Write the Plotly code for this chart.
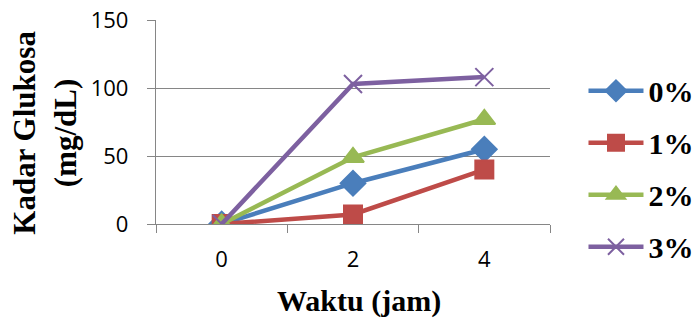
import plotly.graph_objects as go

# Glucose level over time for each concentration
waktu = ["0", "2", "4"]
kadar_0 = [0, 30, 55]
kadar_1 = [0, 7, 40]
kadar_2 = [0, 49, 77]
kadar_3 = [0, 103, 108]

series = [
    ("0%", kadar_0, "#4A7EBB", "diamond", 19),
    ("1%", kadar_1, "#BE4B48", "square", 18),
    ("2%", kadar_2, "#98B954", "triangle-up", 19),
    ("3%", kadar_3, "#7D60A0", "x-thin", 18),
]

fig = go.Figure()
for i, (name, vals, color, symbol, size) in enumerate(series):
    fig.add_trace(go.Scatter(
        x=waktu, y=vals, name=f"<b>{name}</b>", mode="lines+markers",
        line=dict(color=color, width=4.5),
        marker=dict(symbol=symbol, size=size, color=color,
                    line=dict(color=color, width=2)),
        legendgroup=f"g{i}",
    ))

grid_color = "#868686"
fig.update_layout(
    width=698, height=320,
    margin=dict(l=156, r=148, t=20, b=96, autoexpand=False),
    paper_bgcolor="white", plot_bgcolor="white",
    showlegend=True,
    legend=dict(
        x=1.085, y=0.271, xanchor="left", yanchor="middle",
        font=dict(family="Liberation Serif", size=30, color="black"),
        itemwidth=55, tracegroupgap=10, traceorder="grouped",
        bgcolor="rgba(0,0,0,0)", maxheight=400,
    ),
    annotations=[
        dict(text="<b>Kadar Glukosa<br>(mg/dL)</b>", textangle=-90,
             xref="paper", yref="paper", x=-0.283, y=0.45,
             xanchor="center", yanchor="middle", showarrow=False,
             font=dict(family="Liberation Serif", size=31, color="black")),
        dict(text="<b>Waktu (jam)</b>",
             xref="paper", yref="paper", x=0.514, y=-0.375,
             xanchor="center", yanchor="middle", showarrow=False,
             font=dict(family="Liberation Serif", size=30, color="black")),
    ],
)
fig.update_xaxes(
    type="category", range=[-0.5, 2.5], tickson="boundaries",
    ticks="outside", ticklen=8, tickcolor=grid_color, tickwidth=1.3,
    showline=True, linecolor=grid_color, linewidth=1.3,
    showgrid=False, zeroline=False, ticklabelstandoff=15,
    tickfont=dict(family="Open Sans", size=22, color="black"),
)
fig.update_yaxes(
    range=[0, 150], tickvals=[0, 50, 100, 150], ticks="outside", ticklen=8,
    tickcolor=grid_color, tickwidth=1.3,
    showline=True, linecolor=grid_color, linewidth=1.3,
    showgrid=True, gridcolor=grid_color, gridwidth=1.3, zeroline=False,
    ticklabelstandoff=14,
    tickfont=dict(family="Open Sans", size=22, color="black"),
)

fig.write_html("out.html")
